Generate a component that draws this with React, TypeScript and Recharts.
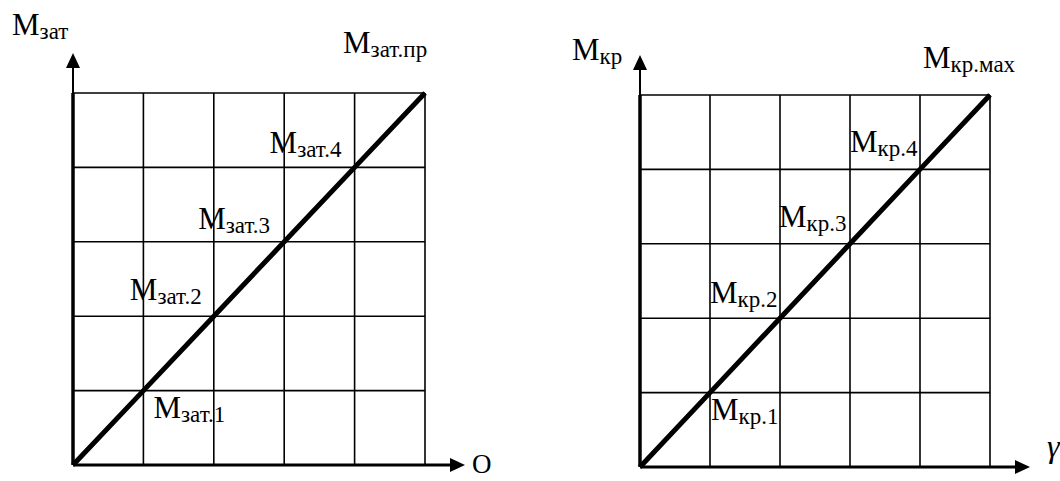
import { ComposedChart, Line, XAxis, YAxis, ReferenceLine, LabelList } from 'recharts';

// grid steps along both axes
const steps = [0, 1, 2, 3, 4, 5];

// left panel: M_зат grows linearly
const zatValues = [0, 1, 2, 3, 4, 5];
const zatLabels = ['', 'зат.1', 'зат.2', 'зат.3', 'зат.4', 'зат.пр'];

// right panel: M_кр grows linearly
const krValues = [0, 1, 2, 3, 4, 5];
const krLabels = ['', 'кр.1', 'кр.2', 'кр.3', 'кр.4', 'кр.мах'];

const FONT = "'Liberation Serif', 'Times New Roman', serif";
const MAIN = 31;
const SUB = 23;

// where each point label sits relative to its point (text start, baseline)
const zatOffsets = [[0, 0], [10, 27], [-84, -16], [-86, -13], [-85, -14], [-82, -40]];
const krOffsets = [[0, 0], [1, 27], [-70, -15], [-71, -17], [-70, -17], [-67, -27]];

const W = 530;
const H = 481;

const SubText = ({ x, y, sub, size = MAIN, subSize = SUB }: any) => (
  <text x={x} y={y} fontFamily={FONT} style={{ fontFamily: FONT }} fill="#000">
    <tspan fontSize={size}>M</tspan>
    <tspan fontSize={subSize} dy={4}>{sub}</tspan>
  </text>
);

const makeLabel = (offsets: number[][]) => (props: any) => {
  const { x, y, value, index } = props;
  if (!value) return null;
  const [dx, dy] = offsets[index] || [0, 0];
  return <SubText key={`l-${index}`} x={Number(x) + dx} y={Number(y) + dy} sub={value} />;
};

interface AxisDecorProps {
  margin: { top: number; right: number; bottom: number; left: number };
  yTitle: string;
  yTitlePos: [number, number];
  xTitle: string;
  xTitlePos: [number, number];
  xSize: number;
  xItalic?: boolean;
}

// arrow heads and axis titles drawn around the plot area
const AxisDecor = ({ margin, yTitle, yTitlePos, xTitle, xTitlePos, xSize, xItalic }: AxisDecorProps) => {
  const left = margin.left;
  const top = margin.top;
  const right = W - margin.right;
  const bottom = H - margin.bottom;
  const yTip = top - 40;
  const xTip = right + 40;
  return (
    <g>
      <line x1={left} y1={top} x2={left} y2={yTip + 12} stroke="#000" strokeWidth={2} />
      <polygon points={`${left},${yTip} ${left - 7},${yTip + 15} ${left + 7},${yTip + 15}`} fill="#000" />
      <line x1={right} y1={bottom} x2={xTip - 12} y2={bottom} stroke="#000" strokeWidth={3} />
      <polygon points={`${xTip},${bottom} ${xTip - 15},${bottom - 7} ${xTip - 15},${bottom + 7}`} fill="#000" />
      <SubText x={yTitlePos[0]} y={yTitlePos[1]} sub={yTitle} />
      <text
        x={xTitlePos[0]}
        y={xTitlePos[1]}
        fontFamily={FONT}
        style={{ fontFamily: FONT, fontStyle: xItalic ? 'italic' : 'normal' }}
        fontSize={xSize}
        fill="#000"
      >
        {xTitle}
      </text>
    </g>
  );
};

interface PanelProps {
  values: number[];
  labels: string[];
  offsets: number[][];
  margin: { top: number; right: number; bottom: number; left: number };
  yTitle: string;
  yTitlePos: [number, number];
  xTitle: string;
  xTitlePos: [number, number];
  xSize: number;
  xItalic?: boolean;
}

const Panel = ({ values, labels, offsets, margin, ...decor }: PanelProps) => {
  const data = steps.map((s, i) => ({ step: s, value: values[i], label: labels[i] }));
  return (
    <ComposedChart width={W} height={H} data={data} margin={margin}>
      <XAxis
        dataKey="step"
        type="number"
        domain={[0, 5]}
        ticks={steps}
        tick={false}
        tickLine={false}
        height={0}
        axisLine={false}
      />
      <YAxis
        type="number"
        domain={[0, 5]}
        ticks={steps}
        tick={false}
        tickLine={false}
        width={0}
        axisLine={false}
      />
      {/* grid drawn as reference lines so every step gets a line */}
      {steps.slice(1).map((s) => (
        <ReferenceLine key={`h-${s}`} y={s} stroke="#000" strokeWidth={1.6} />
      ))}
      {steps.slice(1).map((s) => (
        <ReferenceLine key={`v-${s}`} x={s} stroke="#000" strokeWidth={1.6} />
      ))}
      <ReferenceLine y={0} stroke="#000" strokeWidth={3} />
      <ReferenceLine x={0} stroke="#000" strokeWidth={3.5} />
      <Line
        dataKey="value"
        type="linear"
        stroke="#000"
        strokeWidth={5}
        dot={false}
        isAnimationActive={false}
      >
        <LabelList dataKey="label" content={makeLabel(offsets)} />
      </Line>
      <AxisDecor margin={margin} {...decor} />
    </ComposedChart>
  );
};

export default function App() {
  return (
    <div style={{ position: 'fixed', left: 0, top: 0, width: 1060, height: 481, background: '#fff' }}>
      <div style={{ position: 'absolute', left: 0, top: 0 }}>
        <Panel
          values={zatValues}
          labels={zatLabels}
          offsets={zatOffsets}
          margin={{ top: 93, right: 105, bottom: 16, left: 73 }}
          yTitle="зат"
          yTitlePos={[12, 35]}
          xTitle="O"
          xTitlePos={[472, 473]}
          xSize={27}
        />
      </div>
      <div style={{ position: 'absolute', left: 530, top: 0 }}>
        <Panel
          values={krValues}
          labels={krLabels}
          offsets={krOffsets}
          margin={{ top: 95, right: 70, bottom: 14, left: 110 }}
          yTitle="кр"
          yTitlePos={[42, 60]}
          xTitle="γ"
          xTitlePos={[517, 457]}
          xSize={32}
          xItalic
        />
      </div>
    </div>
  );
}
